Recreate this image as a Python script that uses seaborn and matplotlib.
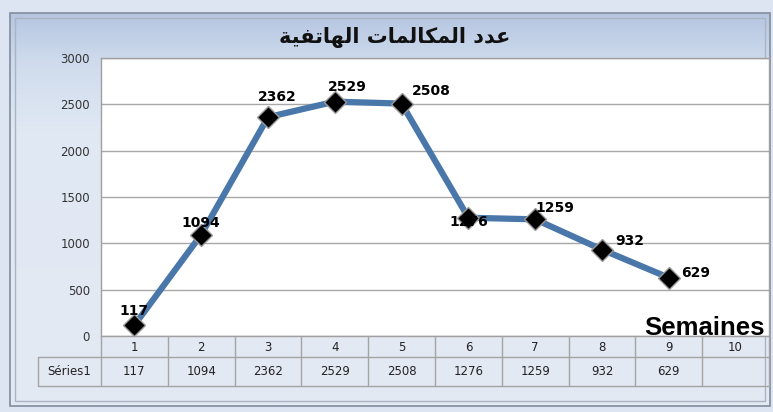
import numpy as np
import pandas as pd
import seaborn as sns
import matplotlib.pyplot as plt
import matplotlib.transforms as mtransforms
from matplotlib.colors import LinearSegmentedColormap
from matplotlib.patches import Rectangle

# data
weeks = [1, 2, 3, 4, 5, 6, 7, 8, 9, 10]
calls = [117, 1094, 2362, 2529, 2508, 1276, 1259, 932, 629]
series_name = "Séries1"
title_text = "عدد المكالمات الهاتفية"
x_title = "Semaines"
y_ticks = [0, 500, 1000, 1500, 2000, 2500, 3000]

# where each value label sits relative to its point (pixels)
label_offsets = [(0, 14), (0, 12), (9, 20), (13, 15), (30, 13),
                 (0, -4), (20, 11), (28, 9), (27, 5)]

# matplotlib has no Arabic shaping: map letters to presentation forms
# (isolated, final, initial, medial) and reverse for left-to-right drawing
FORMS = {
    "ع": ("\uFEC9", "\uFECA", "\uFECB", "\uFECC"),
    "د": ("\uFEA9", "\uFEAA", None, None),
    "ا": ("\uFE8D", "\uFE8E", None, None),
    "ل": ("\uFEDD", "\uFEDE", "\uFEDF", "\uFEE0"),
    "م": ("\uFEE1", "\uFEE2", "\uFEE3", "\uFEE4"),
    "ك": ("\uFED9", "\uFEDA", "\uFEDB", "\uFEDC"),
    "ت": ("\uFE95", "\uFE96", "\uFE97", "\uFE98"),
    "ه": ("\uFEE9", "\uFEEA", "\uFEEB", "\uFEEC"),
    "ف": ("\uFED1", "\uFED2", "\uFED3", "\uFED4"),
    "ي": ("\uFEF1", "\uFEF2", "\uFEF3", "\uFEF4"),
    "ة": ("\uFE93", "\uFE94", None, None),
}


def shape_arabic(text):
    out = []
    for i, ch in enumerate(text):
        if ch not in FORMS:
            out.append(ch)
            continue
        prev = text[i - 1] if i > 0 else ""
        nxt = text[i + 1] if i + 1 < len(text) else ""
        joins_prev = prev in FORMS and FORMS[prev][2] is not None
        joins_next = nxt in FORMS and FORMS[ch][2] is not None
        iso, fin, ini, med = FORMS[ch]
        if joins_prev and joins_next:
            out.append(med)
        elif joins_prev:
            out.append(fin)
        elif joins_next:
            out.append(ini)
        else:
            out.append(iso)
    return "".join(out)[::-1]


sns.set_theme(style="white")
plt.rcParams["font.family"] = ["DejaVu Sans"]

W, H = 773, 412
fig = plt.figure(figsize=(W / 100, H / 100), dpi=100)
fig.patch.set_facecolor("#dce5f1")

# framed background with a soft blue gradient at the top
bg = fig.add_axes([10 / W, 6 / H, 760 / W, 393 / H])
grad_cmap = LinearSegmentedColormap.from_list(
    "bg", [(0, "#b5c6e1"), (0.12, "#cfdbed"), (0.3, "#e0e8f3"), (1, "#e4eaf3")])
bg.imshow(np.linspace(0, 1, 200).reshape(-1, 1), aspect="auto", cmap=grad_cmap,
          extent=[0, 1, 0, 1], origin="upper")
bg.set_xlim(0, 1)
bg.set_ylim(0, 1)
bg.axis("off")
bg.add_patch(Rectangle((0, 0), 1, 1, fill=False, ec="#8793a3", lw=1.3,
                       transform=bg.transAxes, clip_on=False))
bg.add_patch(Rectangle((0.006, 0.012), 0.988, 0.976, fill=False, ec="#aab4c2",
                       lw=1, transform=bg.transAxes, clip_on=False))

ax = fig.add_axes([101 / W, 76 / H, 668 / W, 278 / H])
ax.set_facecolor("white")

df = pd.DataFrame({"week": weeks[:len(calls)], "calls": calls})
sns.lineplot(data=df, x="week", y="calls", ax=ax, color="#4a77aa",
             linewidth=4.5, marker="D", markersize=11.5,
             markerfacecolor="black", markeredgecolor="#9a9a9a",
             markeredgewidth=1, zorder=3)

for (wk, val), (dx, dy) in zip(zip(df["week"], df["calls"]), label_offsets):
    ax.annotate(str(val), (wk, val), xytext=(dx, dy), textcoords="offset pixels",
                ha="center", va="center", fontsize=10, fontweight="bold",
                color="black", zorder=5, annotation_clip=False)

ax.set_xlim(0.5, len(weeks) + 0.5)
ax.set_ylim(0, 3000)
ax.set_yticks(y_ticks)
ax.set_xticks([])
ax.set_xlabel("")
ax.set_ylabel("")
ax.yaxis.grid(True, color="#a8a8a8", lw=1)
ax.set_axisbelow(True)
ax.tick_params(axis="y", length=0, pad=8, labelsize=8.5, labelcolor="#333333")
for s in ax.spines.values():
    s.set_color("#a0a0a0")
    s.set_linewidth(1)

# data table under the plot
trans = mtransforms.blended_transform_factory(ax.transData, ax.transAxes)
r1 = -21 / 278
r2 = -50 / 278
left = 0.5 - 63 / 66.8
right = len(weeks) + 0.5
line_kw = dict(color="#a4a4a4", lw=1, transform=trans, clip_on=False)
ax.plot([0.5, right], [r1, r1], **line_kw)
ax.plot([left, right], [r2, r2], **line_kw)
ax.plot([left, 0.5], [r1, r1], **line_kw)
ax.plot([left, left], [r1, r2], **line_kw)
for b in np.arange(0.5, right + 0.01, 1):
    ax.plot([b, b], [0, r2], **line_kw)

for i, wk in enumerate(weeks):
    ax.text(wk, r1 / 2 - 0.004, str(wk), transform=trans, ha="center",
            va="center", fontsize=8.5, color="#222222")
    val = str(calls[i]) if i < len(calls) else ""
    ax.text(wk, (r1 + r2) / 2, val, transform=trans, ha="center", va="center",
            fontsize=8.5, color="#222222")
ax.text((left + 0.5) / 2, (r1 + r2) / 2, series_name, transform=trans,
        ha="center", va="center", fontsize=8.5, color="#222222")

fig.text(395 / W, 1 - 38 / H, shape_arabic(title_text), ha="center", va="center",
         fontsize=15, fontweight="bold", color="#111111")
fig.text(704 / W, 1 - 328 / H, x_title, ha="center", va="center", fontsize=18.5,
         fontweight="bold", family="Liberation Sans", color="black")

fig.savefig("out.png", dpi=100, facecolor=fig.get_facecolor())
